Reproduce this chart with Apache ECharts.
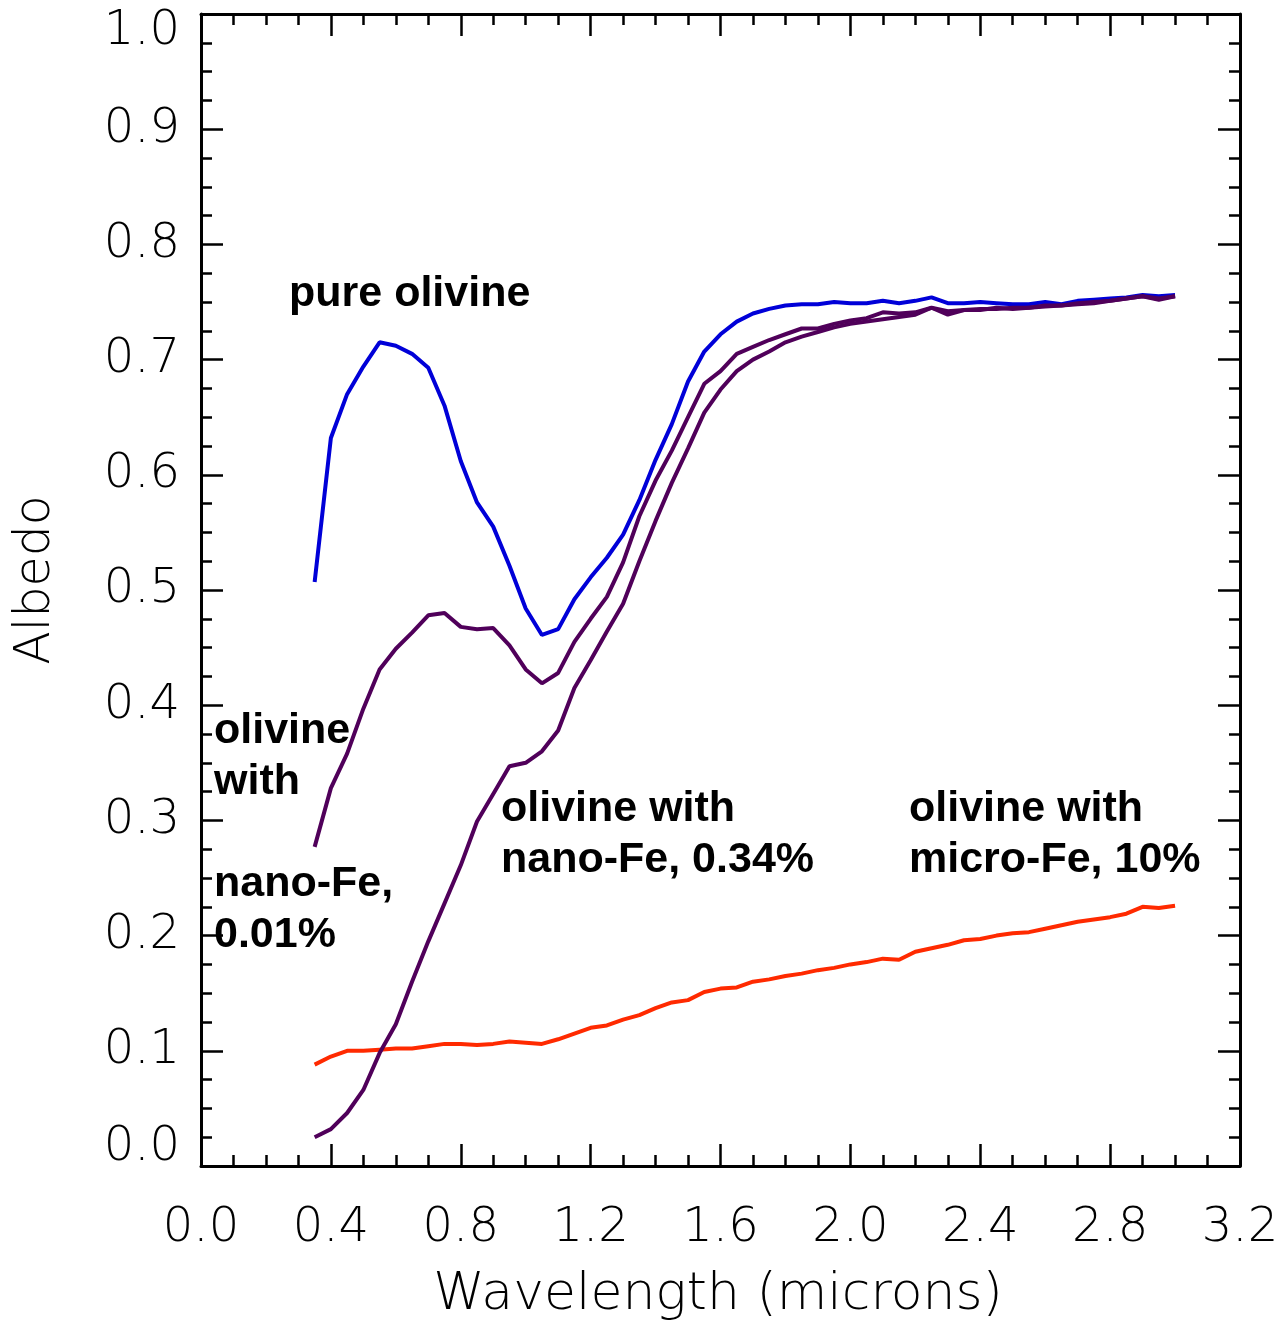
<!DOCTYPE html>
<html>
<head>
<meta charset="utf-8">
<script src="https://cdn.jsdelivr.net/npm/echarts@6/dist/echarts.min.js"></script>
<style>
  html, body { margin: 0; padding: 0; background: #ffffff; }
  #chart { width: 1285px; height: 1324px; }
</style>
</head>
<body>
<div id="chart"></div>
<script>
// Wavelength grid (microns)
const wavelength = [
  0.35, 0.40, 0.45, 0.50, 0.55, 0.60, 0.65, 0.70, 0.75, 0.80,
  0.85, 0.90, 0.95, 1.00, 1.05, 1.10, 1.15, 1.20, 1.25, 1.30,
  1.35, 1.40, 1.45, 1.50, 1.55, 1.60, 1.65, 1.70, 1.75, 1.80,
  1.85, 1.90, 1.95, 2.00, 2.05, 2.10, 2.15, 2.20, 2.25, 2.30,
  2.35, 2.40, 2.45, 2.50, 2.55, 2.60, 2.65, 2.70, 2.75, 2.80,
  2.85, 2.90, 2.95, 3.00
];

// Albedo spectra
const pureOlivine = [
  0.507, 0.632, 0.670, 0.694, 0.715, 0.712, 0.705, 0.693, 0.660, 0.612,
  0.576, 0.555, 0.521, 0.484, 0.461, 0.466, 0.492, 0.511, 0.528, 0.548,
  0.578, 0.613, 0.644, 0.681, 0.707, 0.722, 0.733, 0.740, 0.744, 0.747,
  0.748, 0.748, 0.750, 0.749, 0.749, 0.751, 0.749, 0.751, 0.754, 0.749,
  0.749, 0.750, 0.749, 0.748, 0.748, 0.750, 0.748, 0.751, 0.752, 0.753,
  0.754, 0.756, 0.755, 0.756
];

const nanoFe001 = [
  0.277, 0.328, 0.358, 0.397, 0.431, 0.449, 0.463, 0.478, 0.480, 0.468,
  0.466, 0.467, 0.452, 0.431, 0.419, 0.428, 0.455, 0.475, 0.494, 0.524,
  0.564, 0.595, 0.621, 0.650, 0.679, 0.690, 0.705, 0.711, 0.717, 0.722,
  0.727, 0.727, 0.731, 0.734, 0.736, 0.741, 0.740, 0.741, 0.745, 0.742,
  0.743, 0.744, 0.744, 0.745, 0.745, 0.747, 0.747, 0.749, 0.750, 0.751,
  0.753, 0.755, 0.753, 0.755
];

const nanoFe034 = [
  0.025, 0.032, 0.046, 0.066, 0.098, 0.123, 0.160, 0.195, 0.228, 0.261,
  0.299, 0.323, 0.347, 0.350, 0.360, 0.378, 0.415, 0.439, 0.464, 0.488,
  0.525, 0.560, 0.593, 0.623, 0.654, 0.674, 0.690, 0.700, 0.707, 0.715,
  0.720, 0.724, 0.728, 0.731, 0.733, 0.735, 0.737, 0.739, 0.745, 0.739,
  0.743, 0.743, 0.745, 0.744, 0.745, 0.746, 0.747, 0.748, 0.749, 0.751,
  0.753, 0.755, 0.752, 0.755
];

const microFe10 = [
  0.088, 0.095, 0.100, 0.100, 0.101, 0.102, 0.102, 0.104, 0.106, 0.106,
  0.105, 0.106, 0.108, 0.107, 0.106, 0.110, 0.115, 0.120, 0.122, 0.127,
  0.131, 0.137, 0.142, 0.144, 0.151, 0.154, 0.155, 0.160, 0.162, 0.165,
  0.167, 0.170, 0.172, 0.175, 0.177, 0.180, 0.179, 0.186, 0.189, 0.192,
  0.196, 0.197, 0.200, 0.202, 0.203, 0.206, 0.209, 0.212, 0.214, 0.216,
  0.219, 0.225, 0.224, 0.226
];

const BLUE = '#0000d8';
const PURPLE = '#50005a';
const RED = '#ff2a00';

const TICK_FONT = "'DejaVu Sans ExtraLight', 'DejaVu Sans', sans-serif";
const NOTE_FONT = "'Liberation Sans', Arial, sans-serif";

const pairs = ys => wavelength.map((x, i) => [x, ys[i]]);

// One side of the plot frame: axis line with inward major and minor ticks
function frameAxis(extra) {
  return Object.assign({
    type: 'value',
    axisLine: { show: true, onZero: false, lineStyle: { color: '#000', width: 3 } },
    axisTick: { show: true, inside: true, length: 22, lineStyle: { color: '#000', width: 2.5 } },
    minorTick: { show: true, splitNumber: 4, length: 11, lineStyle: { color: '#000', width: 2.5 } },
    splitLine: { show: false },
    minorSplitLine: { show: false }
  }, extra);
}

const tickLabel = {
  color: '#000',
  fontFamily: TICK_FONT,
  fontWeight: 200,
  fontSize: 48,
  lineHeight: 36,
  formatter: v => v.toFixed(1)
};

const chart = echarts.init(document.getElementById('chart'), null, { renderer: 'canvas' });

function note(text, x, y) {
  return {
    type: 'text',
    left: x,
    top: y,
    style: {
      text: text,
      fill: '#000',
      font: "bold 43px " + NOTE_FONT,
      lineHeight: 51,
      verticalAlign: 'top'
    }
  };
}

const lineSeries = (name, ys, color) => ({
  name: name, type: 'line', data: pairs(ys), showSymbol: false,
  lineStyle: { color: color, width: 4 }, itemStyle: { color: color }
});

chart.setOption({
  animation: false,
  backgroundColor: '#ffffff',
  grid: { left: 201, right: 45, top: 14, bottom: 158, containLabel: false },
  xAxis: [
    frameAxis({
      position: 'bottom', min: 0, max: 3.2, interval: 0.4,
      axisLabel: Object.assign({ margin: 45 }, tickLabel)
    }),
    frameAxis({
      position: 'top', min: 0, max: 3.2, interval: 0.4,
      axisLabel: { show: false }
    })
  ],
  yAxis: [
    frameAxis({
      position: 'left', min: 0, max: 1.0, interval: 0.1,
      axisLabel: Object.assign({
        margin: 21,
        verticalAlignMinLabel: 'bottom',
        verticalAlignMaxLabel: 'top'
      }, tickLabel)
    }),
    frameAxis({
      position: 'right', min: 0, max: 1.0, interval: 0.1,
      axisLabel: { show: false }
    })
  ],
  graphic: [
    {
      type: 'text', x: 718, y: 1295,
      style: {
        text: 'Wavelength (microns)', fill: '#000',
        font: "200 52px " + TICK_FONT,
        align: 'center', verticalAlign: 'middle'
      }
    },
    {
      type: 'text', x: 36, y: 580, rotation: Math.PI / 2,
      style: {
        text: 'Albedo', fill: '#000',
        font: "200 49px " + TICK_FONT,
        align: 'center', verticalAlign: 'middle'
      }
    },
    note('pure olivine', 289, 269),
    note('olivine\nwith\n\nnano-Fe,\n0.01%', 214, 706),
    note('olivine with\nnano-Fe, 0.34%', 501, 784),
    note('olivine with\nmicro-Fe, 10%', 909, 784)
  ],
  series: [
    lineSeries('micro-Fe 10%', microFe10, RED),
    lineSeries('pure olivine', pureOlivine, BLUE),
    lineSeries('nano-Fe 0.01%', nanoFe001, PURPLE),
    lineSeries('nano-Fe 0.34%', nanoFe034, PURPLE)
  ]
});
</script>
</body>
</html>
